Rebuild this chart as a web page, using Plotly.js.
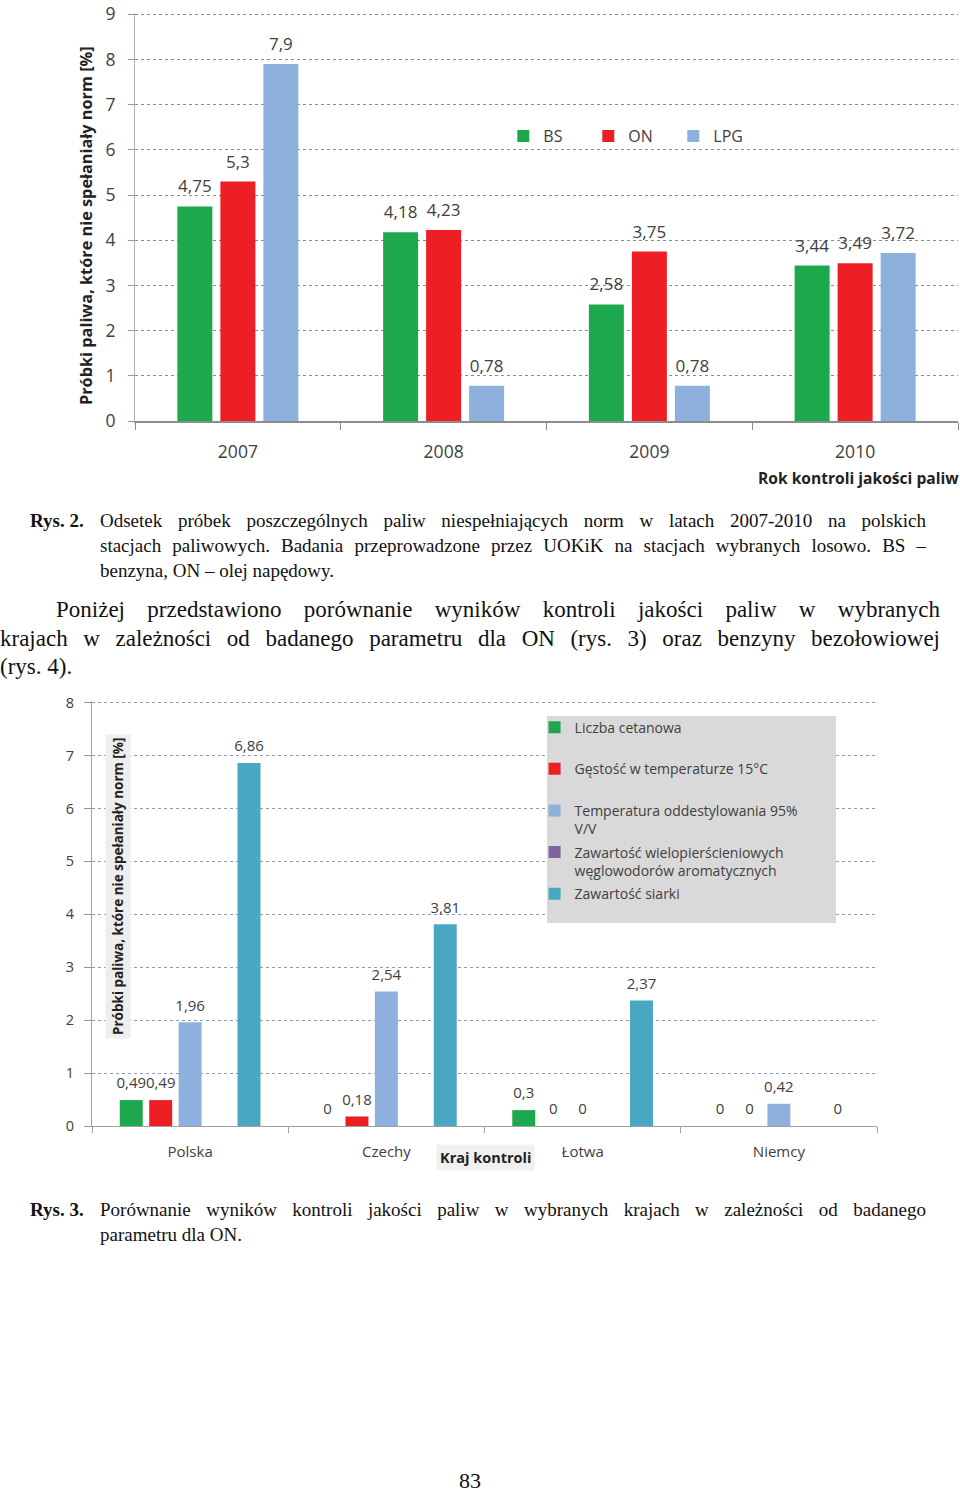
<!DOCTYPE html>
<html>
<head>
<meta charset="utf-8">
<script src="https://cdn.plot.ly/plotly-3.0.1.min.js"></script>
<style>
  html, body { margin:0; padding:0; background:#fff; }
  body { width:960px; height:1493px; position:relative; overflow:hidden; }
  .txt { position:absolute; font-family:'Liberation Serif','Times New Roman',serif; color:#111; white-space:nowrap; }
  .jl { text-align:justify; text-align-last:justify; }
  .cap { font-size:19px; line-height:25px; }
  .body { font-size:23px; line-height:28.5px; }
  #c1 { position:absolute; left:0; top:0; width:960px; height:490px; }
  #c2 { position:absolute; left:0; top:690px; width:960px; height:490px; }
</style>
</head>
<body>
<div id="c1"></div>
<div id="c2"></div>

<div class="txt cap" style="left:30px; top:508px; font-weight:bold;">Rys. 2.</div>
<div class="txt cap jl" style="left:100px; top:508px; width:826px;">Odsetek próbek poszczególnych paliw niespełniających norm w latach 2007-2010 na polskich</div>
<div class="txt cap jl" style="left:100px; top:533px; width:826px;">stacjach paliwowych. Badania przeprowadzone przez UOKiK na stacjach wybranych losowo. BS –</div>
<div class="txt cap" style="left:100px; top:558px;">benzyna, ON – olej napędowy.</div>

<div class="txt body jl" style="left:56px; top:596px; width:884px;">Poniżej przedstawiono porównanie wyników kontroli jakości paliw w wybranych</div>
<div class="txt body jl" style="left:0px; top:624.5px; width:940px;">krajach w zależności od badanego parametru dla ON (rys. 3) oraz benzyny bezołowiowej</div>
<div class="txt body" style="left:0px; top:653px;">(rys. 4).</div>

<div class="txt cap" style="left:30px; top:1197px; font-weight:bold;">Rys. 3.</div>
<div class="txt cap jl" style="left:100px; top:1197px; width:826px;">Porównanie wyników kontroli jakości paliw w wybranych krajach w zależności od badanego</div>
<div class="txt cap" style="left:100px; top:1222px;">parametru dla ON.</div>

<div class="txt" style="left:440px; top:1468px; width:60px; text-align:center; font-size:22px;">83</div>

<script>
// ---------- Data: chart 1 (Rys. 2) ----------
const years = ['2007', '2008', '2009', '2010'];
const bsValues  = [4.75, 4.18, 2.58, 3.44];
const onValues  = [5.3, 4.23, 3.75, 3.49];
const lpgValues = [7.9, 0.78, 0.78, 3.72];
const yTicks1 = [0, 1, 2, 3, 4, 5, 6, 7, 8, 9];

// ---------- Data: chart 2 (Rys. 3) ----------
const countries = ['Polska', 'Czechy', 'Łotwa', 'Niemcy'];
const cetanowa    = [0.49, 0, 0.3, 0];
const gestosc     = [0.49, 0.18, 0, 0];
const temperatura = [1.96, 2.54, 0, 0.42];
const wwa         = [null, null, null, null];
const siarka      = [6.86, 3.81, 2.37, 0];
const yTicks2 = [0, 1, 2, 3, 4, 5, 6, 7, 8];

const fmt = arr => arr.map(v => v === null ? '' : String(v).replace('.', ','));
const FONT = 'Open Sans, Lato, sans-serif';
const TXT = '#404040';

// bar + invisible-marker text label trace (grouped the same way)
function barPair(name, cats, vals, color, opt) {
  const bar = {
    type: 'bar', name: name, x: cats, y: vals, legendgroup: opt.grp,
    marker: { color: color }, hoverinfo: 'skip'
  };
  const lab = {
    type: 'scatter', mode: 'markers+text', orientation: 'v', x: cats, y: vals,
    text: fmt(vals), textposition: 'top center', cliponaxis: false,
    textfont: { family: FONT, size: opt.fs, color: TXT },
    marker: { size: opt.ms, color: 'rgba(0,0,0,0)' },
    showlegend: false, hoverinfo: 'skip'
  };
  return [bar, lab];
}

// ---------- Chart 1 ----------
const p1 = [
  barPair('BS', years, bsValues, '#1ea84e', { fs: 17, ms: 14, grp: 'a' }),
  barPair('ON', years, onValues, '#ed1f24', { fs: 17, ms: 14, grp: 'b' }),
  barPair('LPG', years, lpgValues, '#8eb0dc', { fs: 17, ms: 14, grp: 'c' })
];
const data1 = p1.map(p => p[0]).concat(p1.map(p => p[1]));
const layout1 = {
  width: 960, height: 490,
  margin: { l: 135, r: 2, t: 13, b: 69 },
  paper_bgcolor: '#fff', plot_bgcolor: '#fff',
  barmode: 'group', bargap: 0.373, bargroupgap: 0.186,
  scattermode: 'group', scattergap: 0.373,
  font: { family: FONT, color: TXT },
  showlegend: true,
  legend: {
    orientation: 'h', x: 0.4475, xanchor: 'left', y: 0.6985, yanchor: 'middle',
    font: { family: FONT, size: 16, color: TXT }, entrywidth: 40,
    bgcolor: 'rgba(0,0,0,0)'
  },
  xaxis: {
    type: 'category', showline: true, linecolor: '#8c8c8c', linewidth: 1.5,
    ticks: 'outside', tickson: 'boundaries', ticklen: 7, tickcolor: '#8c8c8c',
    tickfont: { family: FONT, size: 17.5, color: TXT }, ticklabelstandoff: 14,
    showgrid: false, zeroline: false
  },
  yaxis: {
    range: [0, 9.03], tickvals: yTicks1, showline: true, linecolor: '#b0b0b0', linewidth: 1,
    ticks: 'outside', ticklen: 6, tickcolor: '#8a96ab', ticklabeloverflow: 'allow',
    tickfont: { family: FONT, size: 17.5, color: TXT }, ticklabelstandoff: 9,
    showgrid: true, gridcolor: '#7f8ea8', griddash: 'dot', gridwidth: 1,
    zeroline: false
  },
  annotations: [
    {
      text: '<b>Rok kontroli jakości paliw</b>', xref: 'paper', yref: 'paper',
      x: 1, xanchor: 'right', xshift: 3, y: -0.14, yanchor: 'middle', showarrow: false,
      font: { family: FONT, size: 15.6, color: '#222' }
    },
    {
      text: '<b>Próbki paliwa, które nie spełaniały norm [%]</b>', xref: 'paper', yref: 'paper',
      x: (86 - 135) / 823, xanchor: 'center', y: (421 - 226) / 408, yanchor: 'middle',
      textangle: -90, showarrow: false,
      font: { family: FONT, size: 16.3, color: '#222' }
    }
  ]
};
Plotly.newPlot('c1', data1, layout1, { staticPlot: true });

// ---------- Chart 2 ----------
const o2 = { fs: 15, ms: 11 };
const p2 = [
  barPair('Liczba cetanowa<br> ', countries, cetanowa, '#1ea84e', Object.assign({ grp: 'a' }, o2)),
  barPair('Gęstość w temperaturze 15°C<br> ', countries, gestosc, '#ed1f24', Object.assign({ grp: 'b' }, o2)),
  barPair('Temperatura oddestylowania 95%<br>V/V', countries, temperatura, '#8eb0dc', Object.assign({ grp: 'c' }, o2)),
  barPair('Zawartość wielopierścieniowych<br>węglowodorów aromatycznych', countries, wwa, '#7f63a1', Object.assign({ grp: 'd' }, o2)),
  barPair('Zawartość siarki<br> ', countries, siarka, '#4aa7c1', Object.assign({ grp: 'e' }, o2))
];
const data2 = p2.map(p => p[0]).concat(p2.map(p => p[1]));
const layout2 = {
  width: 960, height: 490,
  margin: { l: 92, r: 83, t: 11, b: 54 },
  paper_bgcolor: '#fff', plot_bgcolor: '#fff',
  barmode: 'group', bargap: 0.25, bargroupgap: 0.22,
  scattermode: 'group', scattergap: 0.25,
  font: { family: FONT, color: TXT },
  showlegend: true,
  legend: {
    orientation: 'v', x: 0.5638, xanchor: 'left', y: 0.975, yanchor: 'top',
    traceorder: 'grouped', tracegroupgap: 2.2, valign: 'top',
    font: { family: FONT, size: 14, color: TXT },
    bgcolor: 'rgba(0,0,0,0)'
  },
  shapes: [{
    type: 'rect', xref: 'paper', yref: 'paper', layer: 'above',
    x0: (547 - 92) / 785, x1: (836 - 92) / 785,
    y0: (1126 - 923) / 425, y1: (1126 - 716) / 425,
    fillcolor: '#d9d9d9', line: { width: 0 }
  }],
  xaxis: {
    type: 'category', showline: true, linecolor: '#a0a0a0', linewidth: 1.2,
    ticks: 'outside', tickson: 'boundaries', ticklen: 6, tickcolor: '#a0a0a0',
    tickfont: { family: FONT, size: 15, color: TXT }, ticklabelstandoff: 12,
    showgrid: false, zeroline: false
  },
  yaxis: {
    range: [0, 8.03], tickvals: yTicks2, showline: true, linecolor: '#a0a0a0', linewidth: 1,
    ticks: 'outside', ticklen: 7, tickcolor: '#8a9ab5', ticklabeloverflow: 'allow',
    tickfont: { family: FONT, size: 14.5, color: TXT }, ticklabelstandoff: 7,
    showgrid: true, gridcolor: '#8a9cba', griddash: 'dot', gridwidth: 1,
    zeroline: false
  },
  annotations: [
    {
      text: '<b>Próbki paliwa, które nie spełaniały norm [%]</b>', xref: 'paper', yref: 'paper',
      x: (117.5 - 92) / 785, xanchor: 'center', y: (1126 - 886.5) / 425, yanchor: 'middle',
      textangle: -90, showarrow: false, bgcolor: '#eeeeee', borderpad: 3,
      font: { family: FONT, size: 13.5, color: '#222' }
    },
    {
      text: '<b>Kraj kontroli</b>', xref: 'paper', yref: 'paper',
      x: (485 - 92) / 785, xanchor: 'center', y: (1126 - 1157.5) / 425, yanchor: 'middle',
      showarrow: false, bgcolor: '#f0f0f0', borderpad: 3,
      font: { family: FONT, size: 14.5, color: '#222' }
    }
  ]
};
Plotly.newPlot('c2', data2, layout2, { staticPlot: true });
</script>
</body>
</html>
